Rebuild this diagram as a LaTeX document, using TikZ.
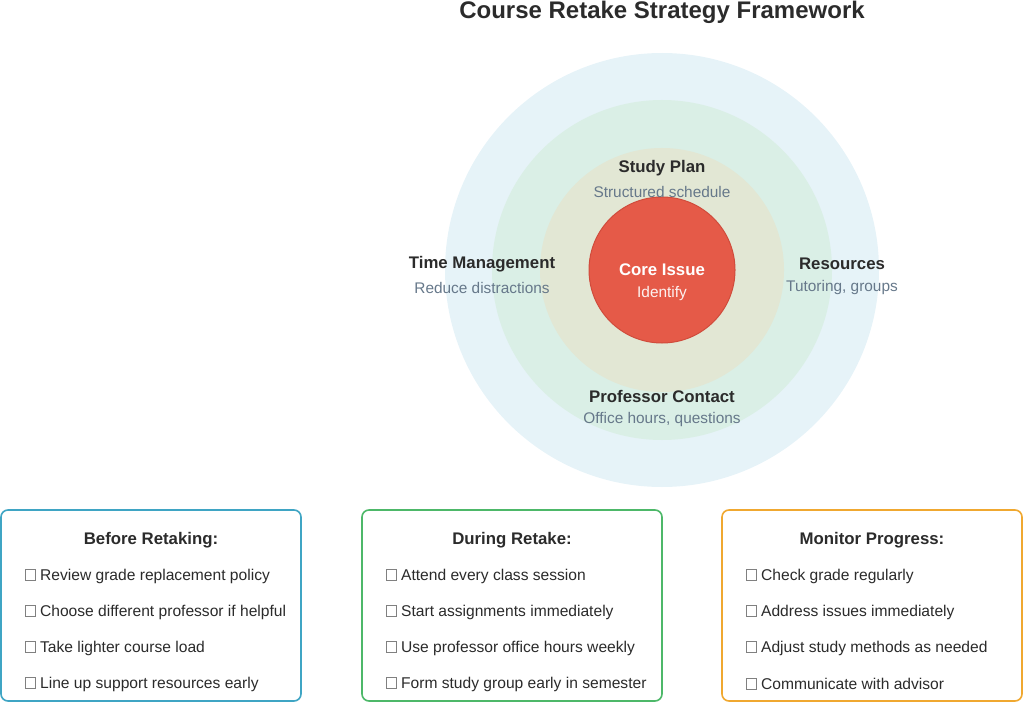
\documentclass[tikz,border=0pt]{standalone}
\usepackage{fontspec}
\setmainfont{Liberation Sans}
\usetikzlibrary{positioning}
\definecolor{ringA}{HTML}{E6F3F8}
\definecolor{ringB}{HTML}{DAEFE6}
\definecolor{ringC}{HTML}{E2E7D4}
\definecolor{coreRed}{HTML}{E55A48}
\definecolor{coreLine}{HTML}{D04C3C}
\definecolor{ink}{HTML}{2B2B2B}
\definecolor{subInk}{HTML}{66788A}
\definecolor{boxBlue}{HTML}{3FA5C4}
\definecolor{boxGreen}{HTML}{4DB869}
\definecolor{boxOrange}{HTML}{F0A830}
\newcommand{\tofu}{\tikz[baseline=0pt]\draw[gray,line width=0.6pt] (0,-0.5pt) rectangle (10pt,11pt);\hspace{5pt}}
\tikzset{
  ring/.style={circle, draw=none, minimum size=#1},
  head/.style={font=\fontsize{16.8}{20}\selectfont\bfseries, text=ink},
  sub/.style={font=\fontsize{15.4}{18}\selectfont, text=subInk},
  panel/.style={draw=#1, line width=1.6pt, rounded corners=7pt, fill=white},
  item/.style={font=\fontsize{15.6}{18}\selectfont, text=ink, anchor=west}
}
\begin{document}
\begin{tikzpicture}[x=1pt,y=-1pt]
  \useasboundingbox (0,0) rectangle (1024,703);

  \node[font=\fontsize{24}{28}\selectfont\bfseries, text=ink] (title) at (662,12) {Course Retake Strategy Framework};

  % rings
  \node[ring=434pt, fill=ringA] (outer) at (662,270) {};
  \node[ring=340pt, fill=ringB] (middle) at (662,270) {};
  \node[ring=244pt, fill=ringC] (inner) at (662,270) {};
  \node[ring=146pt, fill=coreRed, draw=coreLine, line width=1pt] (core) at (662,270) {};

  \node[head, text=white] (coreT) at (662,270) {Core Issue};
  \node[sub, text=white!92!coreRed] (coreS) at (662,294) {Identify};

  \node[head] (planT) at (662,168) {Study Plan};
  \node[sub] (planS) at (662,192) {Structured schedule};
  \node[head] (timeT) at (482,264) {Time Management};
  \node[sub] (timeS) at (482,288) {Reduce distractions};
  \node[head] (resT) at (842,264) {Resources};
  \node[sub] (resS) at (842,288) {Tutoring, groups};
  \node[head] (profT) at (662,396) {Professor Contact};
  \node[sub] (profS) at (662,420) {Office hours, questions};

  % panels
  \foreach \px/\col/\hd/\a/\b/\c/\d in {
      1/boxBlue/Before Retaking:/Review grade replacement policy/Choose different professor if helpful/Take lighter course load/Line up support resources early,
      362/boxGreen/During Retake:/Attend every class session/Start assignments immediately/Use professor office hours weekly/Form study group early in semester,
      722/boxOrange/Monitor Progress:/Check grade regularly/Address issues immediately/Adjust study methods as needed/Communicate with advisor}{
    \draw[panel=\col] (\px,510) rectangle ++(300,191);
    \node[head] at (\px+150,540) {\hd};
    \node[item] at (\px+20,576) {\tofu\a};
    \node[item] at (\px+20,612) {\tofu\b};
    \node[item] at (\px+20,648) {\tofu\c};
    \node[item] at (\px+20,684) {\tofu\d};
  }
\end{tikzpicture}
\end{document}
